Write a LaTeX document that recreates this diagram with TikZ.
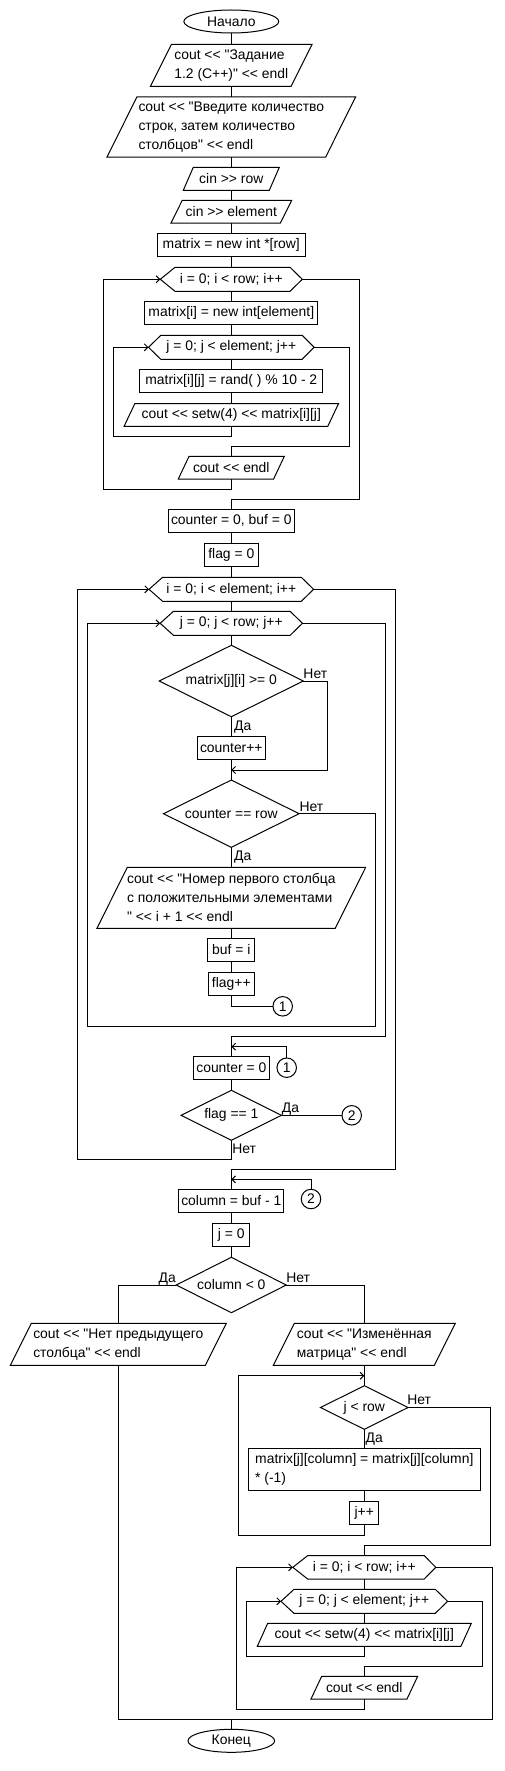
\documentclass[tikz,border=0pt]{standalone}
\usepackage{fontspec}
\newfontfamily\dfont{Liberation Sans}
\usetikzlibrary{shapes.geometric,arrows.meta}
\newcommand\ioshape[2]{\draw (#1.south west) -- ([xshift=#2]#1.north west) -- (#1.north east) -- ([xshift=-#2]#1.south east) -- cycle;}
\newcommand\hexshape[3]{\draw (#1.west) -- ([xshift=#2]#1.north west) -- ([xshift=-#3]#1.north east) -- (#1.east) -- ([xshift=-#3]#1.south east) -- ([xshift=#2]#1.south west) -- cycle;}
\newcommand\dmdshape[1]{\draw (#1.north) -- (#1.east) -- (#1.south) -- (#1.west) -- cycle;}
\tikzset{
  base/.style={inner sep=0pt, outer sep=0pt, font=\dfont\fontsize{13.9}{19}\selectfont, align=center},
  sz/.style 2 args={minimum width=#1, minimum height=#2},
  box/.style={base, draw, rectangle},
  io/.style={base, rectangle},
  hx/.style={base, rectangle},
  dm/.style={base, rectangle},
  term/.style={base, draw, ellipse},
  conn/.style={base, draw, circle, minimum size=19.5},
  lbl/.style={base, inner sep=0pt},
  arr/.style={-{Straight Barb[length=3.5pt,width=7pt]}},
}
\begin{document}
\begin{tikzpicture}[x=1pt,y=-1pt,line width=1pt]
\useasboundingbox (0,0) rectangle (504,1771);
\def\X{231.3}
% ---- nodes
\node[term, sz={95}{23}] (start) at (\X,21.5) {Начало};
\node[io, sz={161.7}{42}, align=left] (p1) at (\X,65.3) {cout << "Задание\\1.2 (C++)" << endl};
\ioshape{p1}{21}
\node[io, sz={248.7}{60.3}, align=left] (p2) at (\X,127) {cout << "Введите количество\\строк, затем количество\\столбцов" << endl};
\ioshape{p2}{30}
\node[io, sz={96}{23}] (p3) at (\X,178.8) {cin >> row};
\ioshape{p3}{10}
\node[io, sz={120.7}{22.7}] (p4) at (\X,211.7) {cin >> element};
\ioshape{p4}{11.3}
\node[box, sz={148}{23}] (r1) at (\X,244.8) {matrix = new int *[row]};
\node[hx, sz={142}{24}] (h1) at (\X,279.3) {i = 0; i < row; i++};
\hexshape{h1}{14.7}{12.3}
\node[box, sz={173}{22.7}] (r2) at (\X,313) {matrix[i] = new int[element]};
\node[hx, sz={165.6}{24}] (h2) at (\X,347.3) {j = 0; j < element; j++};
\hexshape{h2}{12.3}{12}
\node[box, sz={183}{23}] (r3) at (\X,380.8) {matrix[i][j] = rand( ) \% 10 - 2};
\node[io, sz={214.4}{22.6}] (p5) at (\X,415) {cout << setw(4) << matrix[i][j]};
\ioshape{p5}{10.7}
\node[io, sz={106}{22.7}] (p6) at (\X,467.7) {cout << endl};
\ioshape{p6}{10.7}
\node[box, sz={126.4}{23}] (r4) at (\X,520.8) {counter = 0, buf = 0};
\node[box, sz={54}{23}] (r5) at (\X,554.8) {flag = 0};
\node[hx, sz={164.6}{24}] (h3) at (\X,589.3) {i = 0; i < element; i++};
\hexshape{h3}{13.6}{12.3}
\node[hx, sz={142.3}{24}] (h4) at (\X,623.3) {j = 0; j < row; j++};
\hexshape{h4}{13.3}{12.3}
\node[dm, sz={144}{71.4}] (d1) at (\X,681) {matrix[j][i] >= 0};
\dmdshape{d1}
\node[box, sz={68.4}{23}] (r6) at (\X,747.8) {counter++};
\node[dm, sz={135.7}{67.3}] (d2) at (\X,813.7) {counter == row};
\dmdshape{d2}
\node[io, sz={268.7}{61}, align=left] (p7) at (\X,897.8) {cout << "Номер первого столбца\\с положительными элементами\\" << i + 1 << endl};
\ioshape{p7}{30.4}
\node[box, sz={47}{23}] (r7) at (\X,949.8) {buf = i};
\node[box, sz={46}{23}] (r8) at (\X,983.8) {flag++};
\node[conn] (c1) at (282.7,1006.3) {1};
\node[conn] (c1b) at (286.7,1067.7) {1};
\node[box, sz={76}{22.6}] (r9) at (\X,1068) {counter = 0};
\node[dm, sz={100.4}{50}] (d3) at (\X,1115.3) {flag == 1};
\dmdshape{d3}
\node[conn] (c2) at (351.7,1115.3) {2};
\node[conn] (c2b) at (311,1199) {2};
\node[box, sz={105}{23}] (r10) at (\X,1200.8) {column = buf - 1};
\node[box, sz={37}{22.6}] (r11) at (\X,1235) {j = 0};
\node[dm, sz={110}{55.4}] (d4) at (\X,1285) {column < 0};
\dmdshape{d4}
\node[io, sz={216}{42}, align=left] (p8) at (118.3,1344.3) {cout << "Нет предыдущего\\столбца" << endl};
\ioshape{p8}{21}
\node[io, sz={182}{42}, align=left] (p9) at (364.3,1344.3) {cout << "Изменённая\\матрица" << endl};
\ioshape{p9}{21}
\node[dm, sz={87.6}{43.6}] (d5) at (364.3,1407.5) {j < row};
\dmdshape{d5}
\node[box, sz={232}{41.6}, align=left] (r12) at (364.3,1469.5) {matrix[j][column] = matrix[j][column]\\* (-1)};
\node[box, sz={29}{23}] (r13) at (364.3,1512.8) {j++};
\node[hx, sz={143}{23.6}] (h5) at (364.3,1567.3) {i = 0; i < row; i++};
\hexshape{h5}{15}{11.7}
\node[hx, sz={166.6}{24}] (h6) at (364.3,1601.3) {j = 0; j < element; j++};
\hexshape{h6}{13}{12.3}
\node[io, sz={214}{23}] (p10) at (364.3,1634.8) {cout << setw(4) << matrix[i][j]};
\ioshape{p10}{10.4}
\node[io, sz={106.7}{22.7}] (p11) at (364.3,1687.7) {cout << endl};
\ioshape{p11}{10.7}
\node[term, sz={86.7}{23}] (end) at (\X,1740.8) {Конец};
% ---- labels
\node[lbl] (n1) at ([shift={(12,-7.7)}]d1.east) {Нет};
\node[lbl] (y1) at ([shift={(11.5,10)}]d1.south) {Да};
\node[lbl] (n2) at ([shift={(12.3,-7)}]d2.east) {Нет};
\node[lbl] (y2) at ([shift={(11.5,10)}]d2.south) {Да};
\node[lbl] (y3) at ([shift={(9,-6.5)}]d3.east) {Да};
\node[lbl] (n3) at ([shift={(12.8,8.4)}]d3.south) {Нет};
\node[lbl] (y4) at ([shift={(-9,-6.3)}]d4.west) {Да};
\node[lbl] (n4) at ([shift={(11.8,-7.3)}]d4.east) {Нет};
\node[lbl] (n5) at ([shift={(11,-8.2)}]d5.east) {Нет};
\node[lbl] (y5) at ([shift={(10,9.5)}]d5.south) {Да};
% ---- coordinates
\coordinate (cA) at (113.3,436);
\coordinate (cB) at (349.3,446);
\coordinate (cC) at (103.3,489.3);
\coordinate (cD) at (359.3,499.3);
\coordinate (cE) at (327.3,770);
\coordinate (m1) at (\X,770);
\coordinate (cF) at (375.3,1026);
\coordinate (cG) at (87.3,1026);
\coordinate (cH) at (385.3,1036);
\coordinate (m2) at (\X,1046.7);
\coordinate (cI) at (77.3,1159.3);
\coordinate (cJ) at (395.3,1169.3);
\coordinate (m3) at (\X,1179.3);
\coordinate (cK) at (238.3,1535.3);
\coordinate (m4) at (364.3,1375.7);
\coordinate (cL) at (490.3,1545.3);
\coordinate (cM) at (246.3,1656.3);
\coordinate (cN) at (482.3,1666.3);
\coordinate (cO) at (236.3,1709.3);
\coordinate (cP) at (492.3,1719.3);
\coordinate (cQ) at (118.3,1719.3);
\coordinate (m5) at (\X,1719.3);
% ---- connectors
\draw (start.south) -- (p1.north);
\draw (p1.south) -- (p2.north);
\draw (p2.south) -- (p3.north);
\draw (p3.south) -- (p4.north);
\draw (p4.south) -- (r1.north);
\draw (r1.south) -- (h1.north);
\draw (h1.south) -- (r2.north);
\draw (r2.south) -- (h2.north);
\draw (h2.south) -- (r3.north);
\draw (r3.south) -- (p5.north);
\draw[arr] (p5.south) |- (cA) |- (h2.west);
\draw (h2.east) -| (cB) -| (p6.north);
\draw[arr] (p6.south) |- (cC) |- (h1.west);
\draw (h1.east) -| (cD) -| (r4.north);
\draw (r4.south) -- (r5.north);
\draw (r5.south) -- (h3.north);
\draw (h3.south) -- (h4.north);
\draw (h4.south) -- (d1.north);
\draw (d1.south) -- (r6.north);
\draw (r6.south) -- (d2.north);
\draw[arr] (d1.east) -| (cE) -- (m1);
\draw (d2.south) -- (p7.north);
\draw (p7.south) -- (r7.north);
\draw (r7.south) -- (r8.north);
\draw (r8.south) |- (c1.west);
\draw[arr] (d2.east) -| (cF) -- (cG) |- (h4.west);
\draw (h4.east) -| (cH) -| (r9.north);
\draw[arr] (c1b.north) |- (m2);
\draw (r9.south) -- (d3.north);
\draw (d3.east) -- (c2.west);
\draw[arr] (d3.south) |- (cI) |- (h3.west);
\draw (h3.east) -| (cJ) -| (r10.north);
\draw[arr] (c2b.north) |- (m3);
\draw (r10.south) -- (r11.north);
\draw (r11.south) -- (d4.north);
\draw (d4.west) -| (p8.north);
\draw (d4.east) -| (p9.north);
\draw (p9.south) -- (d5.north);
\draw (d5.south) -- (r12.north);
\draw (r12.south) -- (r13.north);
\draw[arr] (r13.south) |- (cK) |- (m4);
\draw (d5.east) -| (cL) -| (h5.north);
\draw (h5.south) -- (h6.north);
\draw (h6.south) -- (p10.north);
\draw[arr] (p10.south) |- (cM) |- (h6.west);
\draw (h6.east) -| (cN) -| (p11.north);
\draw[arr] (p11.south) |- (cO) |- (h5.west);
\draw (h5.east) -| (cP) -- (cQ);
\draw (p8.south) -- (cQ);
\draw (m5) -- (end.north);
\end{tikzpicture}
\end{document}
